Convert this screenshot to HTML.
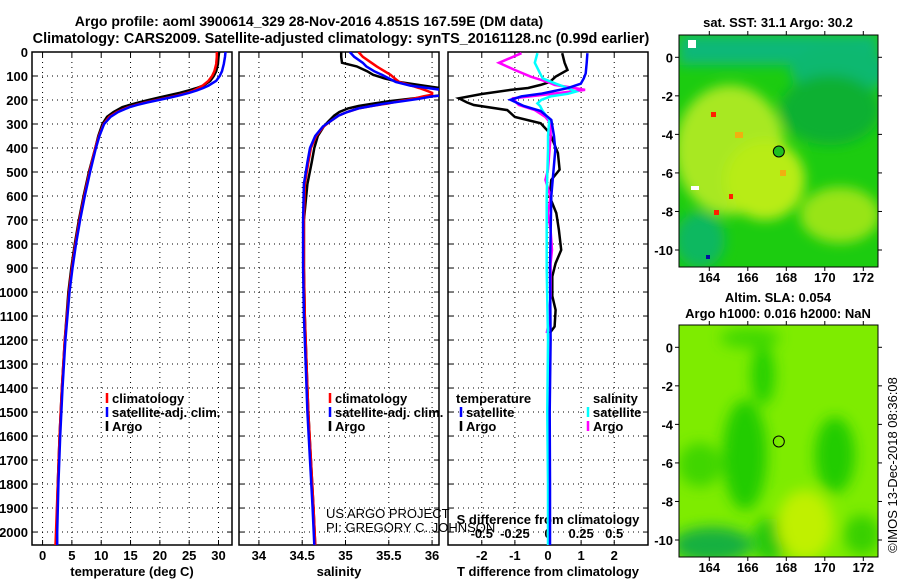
<!DOCTYPE html>
<html><head><meta charset="utf-8">
<style>
html,body{margin:0;padding:0;background:#fff;}
svg{display:block;font-family:"Liberation Sans",sans-serif;}
.b{font-weight:bold;font-size:13px;}
</style></head>
<body>
<svg id="fig" width="900" height="580" viewBox="0 0 900 580">
<defs>
<filter id="blur1" x="-20%" y="-20%" width="140%" height="140%"><feGaussianBlur stdDeviation="6"/></filter>
<filter id="blur2" x="-20%" y="-20%" width="140%" height="140%"><feGaussianBlur stdDeviation="7"/></filter>
<clipPath id="cp1"><rect x="32" y="52" width="200" height="493"/></clipPath>
<clipPath id="cp2"><rect x="239" y="52" width="200" height="493"/></clipPath>
<clipPath id="cp3"><rect x="448" y="52" width="200" height="493"/></clipPath>
<clipPath id="cpm1"><rect x="679" y="35" width="199" height="232"/></clipPath>
<clipPath id="cpm2"><rect x="679" y="325" width="199" height="232"/></clipPath>
</defs>
<text x="309" y="26" text-anchor="middle" font-size="14" font-weight="bold">Argo profile: aoml 3900614_329 28-Nov-2016 4.851S 167.59E (DM data)</text>
<text x="341" y="43" text-anchor="middle" font-size="14.4" font-weight="bold">Climatology: CARS2009. Satellite-adjusted climatology: synTS_20161128.nc (0.99d earlier)</text>

<g id="maps">
 <g clip-path="url(#cpm1)">
  <rect x="679" y="35" width="199" height="232" fill="#1ccc10"/>
  <g filter="url(#blur1)">
   <rect x="679" y="35" width="199" height="30" fill="#10b878"/>
   <ellipse cx="840" cy="70" rx="50" ry="25" fill="#10b870"/>
   <ellipse cx="730" cy="150" rx="55" ry="65" fill="#a8e820"/>
   <ellipse cx="765" cy="180" rx="40" ry="40" fill="#b8ec18"/>
   <ellipse cx="840" cy="215" rx="40" ry="28" fill="#98e418"/>
   <ellipse cx="700" cy="240" rx="25" ry="28" fill="#10b860"/>
   <ellipse cx="830" cy="110" rx="50" ry="35" fill="#10b030"/>
  </g>
  <rect x="711" y="112" width="5" height="5" fill="#ff2000"/>
  <rect x="729" y="194" width="4" height="5" fill="#ff2000"/>
  <rect x="714" y="210" width="5" height="5" fill="#ff2000"/>
  <rect x="688" y="40" width="8" height="8" fill="#fff"/>
  <rect x="691" y="186" width="8" height="4" fill="#fff"/>
  <rect x="706" y="255" width="4" height="4" fill="#0010a0"/>
  <rect x="780" y="170" width="6" height="6" fill="#f0b010"/>
  <rect x="735" y="132" width="8" height="6" fill="#f0b010"/>
 </g>
 <rect x="679" y="35" width="199" height="232" fill="none" stroke="#000" stroke-width="1"/>
 <circle cx="778.8" cy="151.5" r="5.5" fill="#20c020" stroke="#000" stroke-width="1"/>
 <text x="778" y="27" text-anchor="middle" class="b">sat. SST: 31.1 Argo: 30.2</text>

 <g clip-path="url(#cpm2)">
  <rect x="679" y="325" width="199" height="232" fill="#7eec00"/>
  <g filter="url(#blur2)">
   <ellipse cx="745" cy="455" rx="22" ry="55" fill="#20cc00"/>
   <ellipse cx="763" cy="375" rx="12" ry="30" fill="#28d000"/>
   <ellipse cx="835" cy="455" rx="20" ry="38" fill="#20cc00"/>
   <ellipse cx="700" cy="465" rx="22" ry="22" fill="#40d600"/>
   <ellipse cx="712" cy="545" rx="40" ry="18" fill="#18b040"/>
   <ellipse cx="770" cy="540" rx="18" ry="22" fill="#26c810"/>
   <ellipse cx="805" cy="525" rx="28" ry="35" fill="#c0f000"/>
   <ellipse cx="750" cy="338" rx="30" ry="10" fill="#40d800"/>
   <ellipse cx="862" cy="535" rx="18" ry="20" fill="#38d000"/>
  </g>
 </g>
 <rect x="679" y="325" width="199" height="232" fill="none" stroke="#000" stroke-width="1"/>
 <circle cx="778.8" cy="441.5" r="5.5" fill="none" stroke="#000" stroke-width="1"/>
 <text x="778" y="302" text-anchor="middle" class="b">Altim. SLA: 0.054</text>
 <text x="778" y="318" text-anchor="middle" class="b">Argo h1000: 0.016 h2000: NaN</text>
 <text transform="translate(897,465) rotate(-90)" text-anchor="middle" font-size="13">©IMOS 13-Dec-2018 08:36:08</text>
</g>
<g id="plots"></g>
<text x="326" y="518" font-size="13">US ARGO PROJECT</text>
<text x="326" y="532" font-size="13">PI: GREGORY C. JOHNSON</text>
</svg>
<script>
// ---------- data ----------
const depthsT = [0,20,50,80,100,120,140,150,160,170,180,190,200,210,220,230,250,270,300,350,400,500,600,700,800,900,1000,1200,1400,1600,1800,2000,2054];
const tempClim = [29.7,29.7,29.6,29.3,28.9,28.3,27.3,26.6,25.8,24.7,23.2,21.4,19.5,17.6,16.0,14.6,12.7,11.4,10.4,9.6,9.0,8.0,7.1,6.3,5.6,5.0,4.5,3.8,3.3,2.9,2.6,2.3,2.2];
const tempSat = [31.2,31.1,30.9,30.6,30.2,29.6,28.3,27.4,26.3,25.0,23.5,21.7,19.8,17.9,16.2,14.8,12.9,11.6,10.5,9.7,9.1,8.1,7.2,6.4,5.7,5.1,4.6,3.9,3.4,3.0,2.7,2.5,2.5];
const tempArgo = [30.1,30.0,29.9,29.6,29.2,28.6,27.4,26.3,24.9,23.4,21.6,19.8,18.1,16.4,14.9,13.6,12.1,11.0,10.2,9.5,9.0,7.9,7.0,6.2,5.5,4.9,4.4,3.8,3.3,2.9,2.6,2.4,2.4];
const depthsS = [0,20,45,60,80,95,110,125,140,150,160,170,178,185,195,205,215,225,235,250,265,290,310,350,400,460,550,700,900,1100,1300,1500,1700,1900,2054];
const salClim = [35.15,35.2,35.3,35.36,35.45,35.52,35.57,35.62,35.76,35.85,35.93,36.0,36.0,35.9,35.78,35.62,35.48,35.3,35.15,35.02,34.92,34.82,34.75,34.66,34.6,34.57,34.53,34.52,34.52,34.53,34.55,34.57,34.6,34.63,34.65];
const salSat = [35.05,35.1,35.2,35.24,35.33,35.42,35.5,35.58,35.75,35.95,36.15,36.25,36.2,36.0,35.85,35.65,35.45,35.3,35.15,35.02,34.92,34.82,34.74,34.65,34.59,34.56,34.52,34.51,34.51,34.52,34.54,34.56,34.59,34.62,34.64];
const salArgo = [34.95,34.95,34.96,35.13,35.25,35.32,35.45,35.62,35.9,36.09,36.2,36.2,36.15,36.0,35.75,35.5,35.32,35.15,35.03,34.93,34.87,34.8,34.75,34.68,34.64,34.61,34.56,34.52,34.52,34.53,34.55,34.57,34.6,34.63,34.65];
const depthsD = [5,45,75,103,125,137,150,158,175,193,210,221,242,271,297,330,353,421,490,533,603,671,742,825,880,935,1017,1075,1144,1171];
const tDiffArgo = [0.43,0.5,0.59,0.23,0.05,-0.22,-0.6,-1.13,-2.0,-2.69,-2.45,-2.24,-1.23,-1.0,-0.22,0.0,0.1,0.3,0.35,0.1,0.05,0.25,0.33,0.4,0.23,0.13,0.13,0.23,0.2,0.05];
const sDiffArgo = [-0.2,-0.37,-0.25,-0.13,0.0,0.05,0.2,0.28,0.02,-0.26,-0.24,-0.22,-0.1,-0.02,0.02,0.02,0.02,0.01,0.0,-0.02,0.02,0.0,0.02,0.03,0.02,0.02,0.02,0.01,0.0,-0.01];
const depthsDS = [5,45,89,110,132,151,165,174,185,199,214,225,246,283,350,408,600,900,1200,1500,1800,2054];
const tDiffSat = [1.19,1.17,1.14,1.08,0.99,0.59,0.1,-0.22,-0.8,-1.13,-0.9,-0.73,-0.22,0.1,0.18,0.22,0.1,0.06,0.08,0.05,0.06,0.06];
const sDiffSat = [-0.08,-0.1,-0.06,-0.04,0.06,0.15,0.21,0.15,0.02,-0.05,-0.08,-0.06,-0.04,0.01,0.0,0.0,-0.01,-0.01,0.0,-0.005,0.0,0.0];
const depthTicks = [0,100,200,300,400,500,600,700,800,900,1000,1100,1200,1300,1400,1500,1600,1700,1800,1900,2000];
const tempTicks = [0,5,10,15,20,25,30];
const salTicks = [34,34.5,35,35.5,36];
const salTickLabels = ["34","34.5","35","35.5","36"];
const tdTicks = [-2,-1,0,1,2];
const sdTicks = [-0.5,-0.25,0,0.25,0.5];
const sdTickLabels = ["-0.5","-0.25","0","0.25","0.5"];
const lonTicks = [164,166,168,170,172];
const latTicks = [0,-2,-4,-6,-8,-10];

// ---------- axes ----------
const NS='http://www.w3.org/2000/svg';
const TOP=52, BOT=545, DMAX=2054;
const yD = d => TOP + d*(BOT-TOP)/DMAX;
const P1={x0:32,x1:232,lo:-1.8,hi:32.3};
const P2={x0:239,x1:439,lo:33.77,hi:36.08};
const P3={x0:448,x1:648,lo:-3.02,hi:3.02};
const sx = (p,v) => p.x0 + (v-p.lo)*(p.x1-p.x0)/(p.hi-p.lo);
const xS3 = v => sx(P3, v*4);
const root=document.getElementById('plots');
function el(tag,attrs,parent){const e=document.createElementNS(NS,tag);for(const k in attrs)e.setAttribute(k,attrs[k]);(parent||root).appendChild(e);return e;}

function panel(p, vticks, vfun, vlabels, clipId, name, xtitle){
  const g=el('g',{'clip-path':'url(#'+clipId+')'});
  
  
  depthTicks.forEach(d=>{ if(d>0) el('line',{x1:p.x0,x2:p.x1,y1:yD(d),y2:yD(d),stroke:'#000','stroke-dasharray':'1,4','stroke-width':1},g); });
  vticks.forEach(v=>{ el('line',{x1:vfun(v),x2:vfun(v),y1:TOP,y2:BOT,stroke:'#000','stroke-dasharray':'1,4','stroke-width':1},g); });
  const fr=el('rect',{x:p.x0,y:TOP,width:p.x1-p.x0,height:BOT-TOP,fill:'none',stroke:'#000','stroke-width':1.5});
  
  
  depthTicks.forEach(d=>{
    el('line',{x1:p.x0,x2:p.x0+5,y1:yD(d),y2:yD(d),stroke:'#000'});
    el('line',{x1:p.x1-5,x2:p.x1,y1:yD(d),y2:yD(d),stroke:'#000'});
  });
  vticks.forEach((v,i)=>{
    el('line',{x1:vfun(v),x2:vfun(v),y1:BOT-5,y2:BOT,stroke:'#000'});
    el('line',{x1:vfun(v),x2:vfun(v),y1:TOP,y2:TOP+5,stroke:'#000'});
    if(vlabels){
      const t=el('text',{x:vfun(v),y:560,'text-anchor':'middle','class':'b'});
      t.textContent=vlabels[i];
      
      
    }
  });
  const xt=el('text',{x:(p.x0+p.x1)/2,y:576,'text-anchor':'middle','class':'b'});
  xt.textContent=xtitle;
  
  
}
function series(xs, ds, xf, color, clipId, name, w){
  const pts=xs.map((v,i)=>xf(v).toFixed(1)+','+yD(ds[i]).toFixed(1)).join(' ');
  const pl=el('polyline',{points:pts,fill:'none',stroke:color,'stroke-width':w||2.5,'clip-path':'url(#'+clipId+')','stroke-linejoin':'miter'});
  
  
}
function legend(x,y,color,label,name){
  el('line',{x1:x,x2:x,y1:y-10,y2:y,stroke:color,'stroke-width':2.5});
  const t=el('text',{x:x+5,y:y,'class':'b'});
  t.textContent=label;
  
  
}

depthTicks.forEach(d=>{
  const t=el('text',{x:28,y:yD(d)+5,'text-anchor':'end','class':'b'});
  t.textContent=String(d);
  
  
});

const xT=v=>sx(P1,v);
panel(P1,tempTicks,xT,tempTicks.map(String),'cp1','temperature-panel','temperature (deg C)');
series(tempArgo,depthsT,xT,'#000','cp1','temperature-argo-line');
series(tempClim,depthsT,xT,'#ff0000','cp1','temperature-climatology-line');
series(tempSat,depthsT,xT,'#0000ff','cp1','temperature-satellite-line');
legend(107,403,'#ff0000','climatology','legend-climatology');
legend(107,417,'#0000ff','satellite-adj. clim.','legend-satellite');
legend(107,431,'#000','Argo','legend-argo');

const xSal=v=>sx(P2,v);
panel(P2,salTicks,xSal,salTickLabels,'cp2','salinity-panel','salinity');
series(salArgo,depthsS,xSal,'#000','cp2','salinity-argo-line');
series(salClim,depthsS,xSal,'#ff0000','cp2','salinity-climatology-line');
series(salSat,depthsS,xSal,'#0000ff','cp2','salinity-satellite-line');
legend(330,403,'#ff0000','climatology','legend-sal-climatology');
legend(330,417,'#0000ff','satellite-adj. clim.','legend-sal-satellite');
legend(330,431,'#000','Argo','legend-sal-argo');

const xTd=v=>sx(P3,v);
panel(P3,tdTicks,xTd,tdTicks.map(String),'cp3','difference-panel','T difference from climatology');
sdTicks.forEach((v,i)=>{
  const t=el('text',{x:xS3(v),y:538,'text-anchor':'middle','class':'b'});
  t.textContent=sdTickLabels[i];
  
  
});
const st=el('text',{x:548,y:524,'text-anchor':'middle','class':'b'});
st.textContent='S difference from climatology';


series(tDiffArgo,depthsD,xTd,'#000','cp3','t-diff-argo-line');
series(sDiffArgo,depthsD,xS3,'#ff00ff','cp3','s-diff-argo-line');
series(sDiffSat,depthsDS,xS3,'#00ffff','cp3','s-diff-satellite-line');
series(tDiffSat,depthsDS,xTd,'#0000ff','cp3','t-diff-satellite-line');
const lt=el('text',{x:456,y:403,'class':'b'});
lt.textContent='temperature';


legend(461,417,'#0000ff','satellite','legend-t-satellite');
legend(461,431,'#000','Argo','legend-t-argo');
const ls=el('text',{x:593,y:403,'class':'b'});
ls.textContent='salinity';


legend(588,417,'#00ffff','satellite','legend-s-satellite');
legend(588,431,'#ff00ff','Argo','legend-s-argo');

const lonX=v=>709.3+(v-164)*19.25;
function mapAxes(y0,y1,lat0,name){
  lonTicks.forEach(v=>{
    el('line',{x1:lonX(v),x2:lonX(v),y1:y0-4,y2:y0,stroke:'#000'});
    el('line',{x1:lonX(v),x2:lonX(v),y1:y1,y2:y1+4,stroke:'#000'});
    const t=el('text',{x:lonX(v),y:y1+15,'text-anchor':'middle','class':'b'});
    t.textContent=String(v);
    
    
  });
  latTicks.forEach(v=>{
    const y=lat0-v*19.27;
    el('line',{x1:675,x2:679,y1:y,y2:y,stroke:'#000'});
    el('line',{x1:878,x2:882,y1:y,y2:y,stroke:'#000'});
    const t=el('text',{x:673,y:y+5,'text-anchor':'end','class':'b'});
    t.textContent=String(v);
    
    
  });
}
mapAxes(35,267,57.3,'sst-map');
mapAxes(325,557,347.3,'sla-map');
</script>
</body></html>
